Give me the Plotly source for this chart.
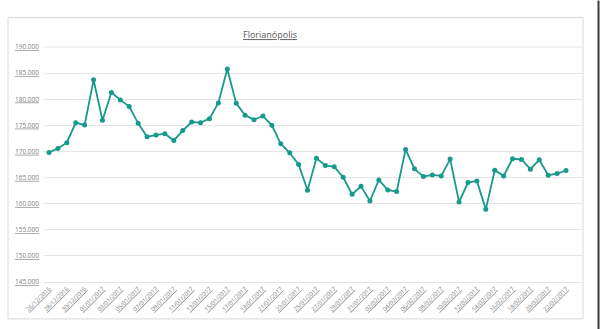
import plotly.graph_objects as go

dates = [
    "26/12/2016", "27/12/2016", "28/12/2016", "29/12/2016", "30/12/2016", "31/12/2016",
    "01/01/2017", "02/01/2017", "03/01/2017", "04/01/2017", "05/01/2017", "06/01/2017",
    "07/01/2017", "08/01/2017", "09/01/2017", "10/01/2017", "11/01/2017", "12/01/2017",
    "13/01/2017", "14/01/2017", "15/01/2017", "16/01/2017", "17/01/2017", "18/01/2017",
    "19/01/2017", "20/01/2017", "21/01/2017", "22/01/2017", "23/01/2017", "24/01/2017",
    "25/01/2017", "26/01/2017", "27/01/2017", "28/01/2017", "29/01/2017", "30/01/2017",
    "31/01/2017", "01/02/2017", "02/02/2017", "03/02/2017", "04/02/2017", "05/02/2017",
    "06/02/2017", "07/02/2017", "08/02/2017", "09/02/2017", "10/02/2017", "11/02/2017",
    "12/02/2017", "13/02/2017", "14/02/2017", "15/02/2017", "16/02/2017", "17/02/2017",
    "18/02/2017", "19/02/2017", "20/02/2017", "21/02/2017", "22/02/2017",
]

values = [
    169800, 170580, 171670, 175510, 175060, 183720, 175960, 181280, 179870, 178590,
    175380, 172820, 173140, 173400, 172110, 174000, 175640, 175510, 176280, 179290,
    185770, 179230, 176920, 176090, 176790, 175000, 171470, 169740, 167500, 162560,
    168700, 167310, 167050, 165060, 161800, 163330, 160510, 164550, 162630, 162310,
    170380, 166670, 165190, 165510, 165320, 168530, 160320, 164040, 164360, 158910,
    166410, 165320, 168590, 168460, 166600, 168400, 165450, 165770, 166350,
]

y_ticks = [145000, 150000, 155000, 160000, 165000, 170000, 175000, 180000, 185000, 190000]
y_tick_text = ["145.000", "150.000", "155.000", "160.000", "165.000", "170.000",
               "175.000", "180.000", "185.000", "190.000"]
x_tick_vals = dates[::2]

title_text = "Florianópolis"
line_color = "#179a8c"
text_color = "#595959"
grid_color = "#e5e5e5"

fig = go.Figure()
fig.add_trace(go.Scatter(
    x=dates, y=values, mode="lines+markers",
    line=dict(color=line_color, width=1.8),
    marker=dict(color=line_color, size=5),
    showlegend=False, hoverinfo="x+y",
))

fig.update_layout(
    width=600, height=329,
    margin=dict(l=44, r=18, t=46.5, b=47),
    paper_bgcolor="white", plot_bgcolor="white",
    font=dict(family="Open Sans, Liberation Sans, sans-serif", color=text_color),
    title=dict(text="<u>" + title_text + "</u>", x=0.45, xanchor="center",
               y=1 - 35 / 329, yanchor="middle",
               font=dict(size=9, color=text_color)),
    xaxis=dict(
        type="category", range=[-0.56, 59.79],
        tickmode="array", tickvals=x_tick_vals,
        ticktext=["<u>" + d + "</u>" for d in x_tick_vals],
        tickangle=-45, tickfont=dict(size=6, color="#7f7f7f"),
        showgrid=False, showline=True, linecolor=grid_color, linewidth=1,
        ticks="", zeroline=False,
    ),
    yaxis=dict(
        range=[145000, 190000],
        tickmode="array", tickvals=y_ticks,
        ticktext=["<u>" + t + "</u>" for t in y_tick_text],
        tickfont=dict(size=6.5, color="#7f7f7f"),
        showgrid=True, gridcolor=grid_color, gridwidth=1,
        zeroline=False, ticks="", ticklabelstandoff=4,
    ),
    shapes=[
        dict(type="rect", xref="paper", yref="paper",
             x0=(8 - 44) / 538, x1=(583 - 44) / 538,
             y0=(282 - 319) / 235.5, y1=(282 - 17) / 235.5,
             line=dict(color="#d9d9d9", width=1), fillcolor="rgba(0,0,0,0)", layer="below"),
        dict(type="line", xref="paper", yref="paper",
             x0=0, x1=1.0, y0=1.0, y1=1.0,
             line=dict(color=grid_color, width=1), layer="below"),
        dict(type="line", xref="paper", yref="paper",
             x0=(598.5 - 44) / 538, x1=(598.5 - 44) / 538,
             y0=(282 - 329) / 235.5, y1=(282 - 0) / 235.5,
             line=dict(color="#3a3a3a", width=2)),
    ],
)

fig.write_html("out.html")
